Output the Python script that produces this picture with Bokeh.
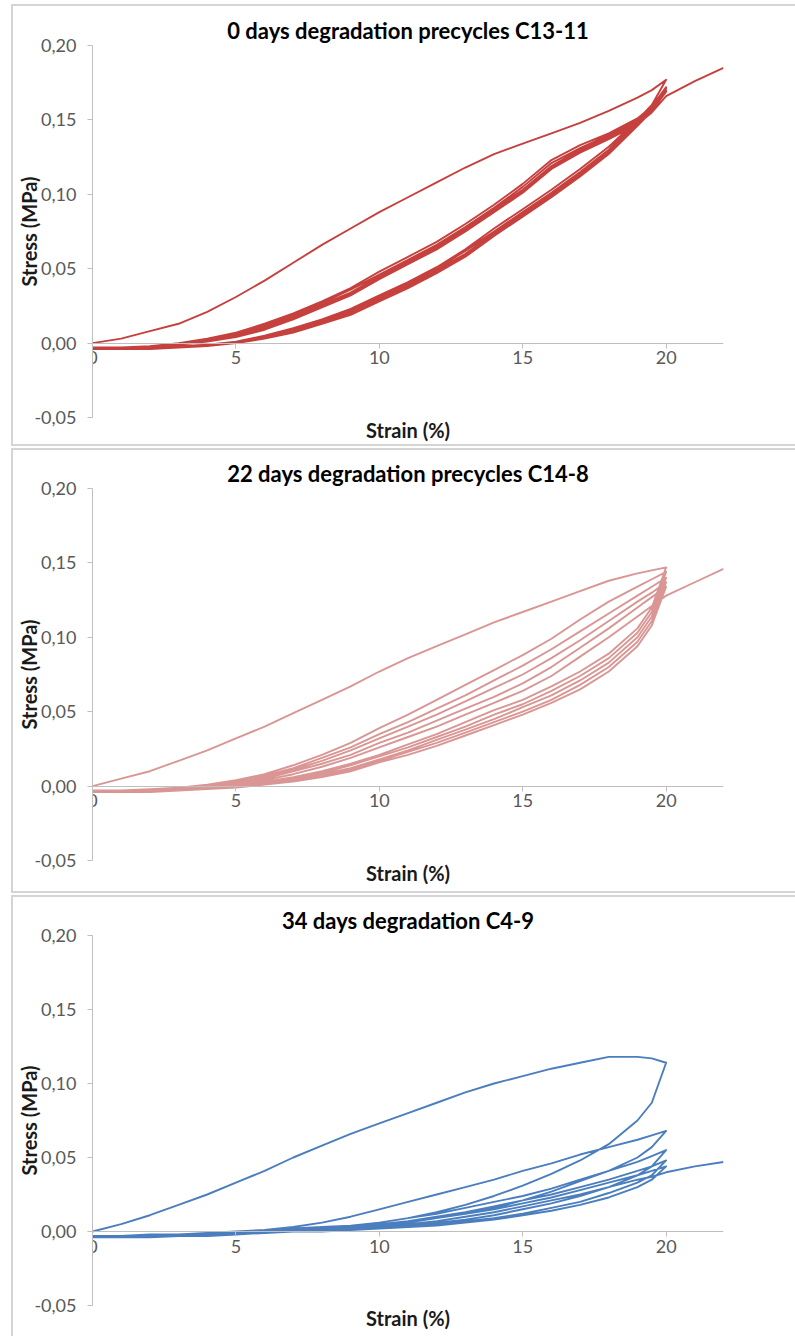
from bokeh.plotting import figure
from bokeh.layouts import column
from bokeh.models import Range1d, FixedTicker, LinearAxis, Title
from bokeh.embed import file_html
from bokeh.resources import INLINE

# ---------------- shared axes data ----------------
strain_grid = [0, 1, 2, 3, 4, 5, 6, 7, 8, 9, 10, 11, 12, 13, 14, 15, 16, 17, 18, 19, 19.5, 20]
strain_tail = [21, 22]
x_ticks = [0, 5, 10, 15, 20]
x_tick_labels = ["0", "5", "10", "15", "20"]
y_ticks = [-0.05, 0.0, 0.05, 0.10, 0.15, 0.20]
y_tick_labels = ["-0,05", "0,00", "0,05", "0,10", "0,15", "0,20"]

titles = ["0 days degradation precycles C13-11",
          "22 days degradation precycles C14-8",
          "34 days degradation C4-9"]

# ---------------- panel 1 : 0 days (stress in MPa on strain_grid) ----------------
p1_load_1 = [0.000, 0.003, 0.008, 0.013, 0.021, 0.031, 0.042, 0.054, 0.066, 0.077, 0.088, 0.098, 0.108, 0.118, 0.127, 0.134, 0.141, 0.148, 0.156, 0.165, 0.170, 0.177]
p1_unload_1 = [-0.003, -0.003, -0.003, -0.002, -0.001, 0.001, 0.005, 0.010, 0.016, 0.023, 0.032, 0.041, 0.051, 0.063, 0.077, 0.090, 0.103, 0.117, 0.132, 0.150, 0.160, 0.177]
p1_load_2 = [-0.003, -0.003, -0.002, 0.000, 0.003, 0.007, 0.013, 0.020, 0.028, 0.037, 0.048, 0.058, 0.068, 0.080, 0.093, 0.107, 0.123, 0.133, 0.141, 0.151, 0.159, 0.172]
p1_unload_2 = [-0.003, -0.003, -0.003, -0.002, -0.001, 0.001, 0.004, 0.009, 0.015, 0.022, 0.031, 0.040, 0.050, 0.062, 0.075, 0.088, 0.101, 0.115, 0.130, 0.149, 0.159, 0.172]
p1_load_3 = [-0.003, -0.003, -0.002, 0.000, 0.002, 0.006, 0.012, 0.019, 0.027, 0.036, 0.046, 0.056, 0.066, 0.078, 0.091, 0.105, 0.121, 0.131, 0.140, 0.150, 0.158, 0.171]
p1_unload_3 = [-0.004, -0.003, -0.003, -0.002, -0.001, 0.000, 0.004, 0.008, 0.014, 0.021, 0.030, 0.039, 0.049, 0.060, 0.074, 0.087, 0.100, 0.114, 0.129, 0.148, 0.158, 0.171]
p1_load_4 = [-0.004, -0.003, -0.003, -0.001, 0.002, 0.005, 0.011, 0.018, 0.026, 0.034, 0.045, 0.055, 0.065, 0.077, 0.090, 0.103, 0.119, 0.130, 0.139, 0.149, 0.157, 0.170]
p1_unload_4 = [-0.004, -0.004, -0.003, -0.003, -0.002, 0.000, 0.003, 0.008, 0.013, 0.020, 0.029, 0.038, 0.048, 0.059, 0.073, 0.086, 0.099, 0.113, 0.128, 0.147, 0.157, 0.170]
p1_load_5 = [-0.004, -0.004, -0.003, -0.001, 0.001, 0.005, 0.010, 0.017, 0.025, 0.033, 0.044, 0.054, 0.064, 0.076, 0.089, 0.102, 0.118, 0.129, 0.138, 0.148, 0.156, 0.169]
p1_unload_5 = [-0.004, -0.004, -0.004, -0.003, -0.002, 0.000, 0.003, 0.007, 0.013, 0.019, 0.028, 0.037, 0.047, 0.058, 0.072, 0.085, 0.098, 0.112, 0.127, 0.146, 0.156, 0.169]
p1_load_final = [-0.004, -0.004, -0.003, -0.001, 0.001, 0.004, 0.009, 0.016, 0.024, 0.032, 0.043, 0.053, 0.063, 0.075, 0.088, 0.101, 0.117, 0.128, 0.137, 0.147, 0.155, 0.166]
p1_tail = [0.176, 0.185]

# ---------------- panel 2 : 22 days ----------------
p2_load_1 = [0.000, 0.005, 0.010, 0.017, 0.024, 0.032, 0.040, 0.049, 0.058, 0.067, 0.077, 0.086, 0.094, 0.102, 0.110, 0.117, 0.124, 0.131, 0.138, 0.143, 0.145, 0.147]
p2_unload_1 = [-0.003, -0.003, -0.003, -0.002, -0.001, 0.001, 0.003, 0.006, 0.010, 0.015, 0.021, 0.028, 0.035, 0.043, 0.051, 0.058, 0.067, 0.077, 0.089, 0.106, 0.120, 0.147]
p2_load_2 = [-0.003, -0.003, -0.002, -0.001, 0.001, 0.004, 0.008, 0.014, 0.021, 0.029, 0.039, 0.048, 0.058, 0.068, 0.078, 0.088, 0.099, 0.112, 0.124, 0.134, 0.139, 0.144]
p2_unload_2 = [-0.004, -0.003, -0.003, -0.002, -0.001, 0.000, 0.002, 0.005, 0.009, 0.014, 0.020, 0.026, 0.033, 0.040, 0.048, 0.055, 0.064, 0.074, 0.086, 0.103, 0.117, 0.144]
p2_load_3 = [-0.003, -0.003, -0.003, -0.001, 0.001, 0.003, 0.007, 0.012, 0.019, 0.026, 0.035, 0.043, 0.052, 0.061, 0.071, 0.081, 0.092, 0.104, 0.116, 0.128, 0.134, 0.140]
p2_unload_3 = [-0.004, -0.004, -0.003, -0.003, -0.002, 0.000, 0.002, 0.004, 0.008, 0.012, 0.018, 0.024, 0.031, 0.038, 0.045, 0.053, 0.061, 0.071, 0.083, 0.100, 0.114, 0.140]
p2_load_4 = [-0.004, -0.003, -0.003, -0.002, 0.000, 0.003, 0.006, 0.011, 0.017, 0.024, 0.032, 0.040, 0.048, 0.057, 0.066, 0.075, 0.086, 0.098, 0.111, 0.124, 0.130, 0.137]
p2_unload_4 = [-0.004, -0.004, -0.004, -0.003, -0.002, -0.001, 0.001, 0.004, 0.007, 0.011, 0.017, 0.023, 0.029, 0.036, 0.043, 0.050, 0.058, 0.068, 0.080, 0.097, 0.111, 0.137]
p2_load_5 = [-0.004, -0.004, -0.003, -0.002, 0.000, 0.002, 0.005, 0.010, 0.015, 0.021, 0.029, 0.036, 0.044, 0.052, 0.060, 0.069, 0.080, 0.093, 0.106, 0.120, 0.127, 0.134]
p2_unload_5 = [-0.004, -0.004, -0.004, -0.003, -0.002, -0.001, 0.001, 0.003, 0.006, 0.010, 0.016, 0.021, 0.027, 0.034, 0.041, 0.048, 0.056, 0.065, 0.077, 0.094, 0.108, 0.134]
p2_load_final = [-0.004, -0.004, -0.004, -0.002, -0.001, 0.001, 0.004, 0.008, 0.013, 0.019, 0.026, 0.033, 0.040, 0.048, 0.056, 0.064, 0.074, 0.087, 0.100, 0.114, 0.121, 0.128]
p2_tail = [0.137, 0.146]

# ---------------- panel 3 : 34 days ----------------
p3_load_1 = [0.000, 0.005, 0.011, 0.018, 0.025, 0.033, 0.041, 0.050, 0.058, 0.066, 0.073, 0.080, 0.087, 0.094, 0.100, 0.105, 0.110, 0.114, 0.118, 0.118, 0.117, 0.114]
p3_unload_1 = [-0.003, -0.003, -0.002, -0.002, -0.001, 0.000, 0.001, 0.002, 0.003, 0.004, 0.006, 0.009, 0.013, 0.018, 0.024, 0.031, 0.039, 0.048, 0.059, 0.075, 0.087, 0.114]
p3_load_2 = [-0.003, -0.003, -0.002, -0.002, -0.001, 0.000, 0.001, 0.003, 0.006, 0.010, 0.015, 0.020, 0.025, 0.030, 0.035, 0.041, 0.046, 0.052, 0.057, 0.062, 0.065, 0.068]
p3_unload_2 = [-0.003, -0.003, -0.003, -0.002, -0.002, -0.001, 0.000, 0.001, 0.002, 0.003, 0.004, 0.006, 0.009, 0.012, 0.016, 0.021, 0.027, 0.034, 0.041, 0.050, 0.057, 0.068]
p3_load_3 = [-0.003, -0.003, -0.003, -0.002, -0.002, -0.001, 0.000, 0.001, 0.003, 0.004, 0.006, 0.009, 0.012, 0.016, 0.020, 0.024, 0.029, 0.035, 0.041, 0.047, 0.051, 0.055]
p3_unload_3 = [-0.004, -0.003, -0.003, -0.003, -0.002, -0.001, 0.000, 0.000, 0.001, 0.002, 0.003, 0.004, 0.006, 0.008, 0.011, 0.015, 0.019, 0.024, 0.030, 0.038, 0.044, 0.055]
p3_load_4 = [-0.004, -0.003, -0.003, -0.003, -0.002, -0.001, 0.000, 0.001, 0.002, 0.003, 0.005, 0.007, 0.010, 0.013, 0.017, 0.021, 0.025, 0.030, 0.035, 0.041, 0.044, 0.048]
p3_unload_4 = [-0.004, -0.004, -0.003, -0.003, -0.002, -0.002, -0.001, 0.000, 0.001, 0.001, 0.002, 0.003, 0.005, 0.007, 0.009, 0.012, 0.016, 0.020, 0.026, 0.033, 0.038, 0.048]
p3_load_5 = [-0.004, -0.004, -0.003, -0.003, -0.002, -0.001, 0.000, 0.001, 0.002, 0.003, 0.004, 0.006, 0.009, 0.012, 0.015, 0.019, 0.023, 0.028, 0.033, 0.038, 0.041, 0.044]
p3_unload_5 = [-0.004, -0.004, -0.004, -0.003, -0.003, -0.002, -0.001, 0.000, 0.000, 0.001, 0.002, 0.003, 0.004, 0.006, 0.008, 0.011, 0.014, 0.018, 0.023, 0.030, 0.035, 0.044]
p3_load_final = [-0.004, -0.004, -0.004, -0.003, -0.002, -0.002, -0.001, 0.000, 0.001, 0.002, 0.003, 0.005, 0.007, 0.010, 0.013, 0.017, 0.021, 0.025, 0.030, 0.035, 0.037, 0.040]
p3_tail = [0.044, 0.047]

colors = ["#C6403E", "#D99694", "#4A7EBE"]

FONT = "Lato"
AXIS_GRAY = "#BFBFBF"
LABEL_SIZE = "20px"
TICK_SIZE = "18px"


def build_path(loads, unloads, final, tail):
    xs, ys = [], []
    for ld, ul in zip(loads, unloads):
        xs += strain_grid + strain_grid[::-1]
        ys += ld + ul[::-1]
    xs += strain_grid + strain_tail
    ys += final + tail
    return xs, ys


def make_panel(title, loads, unloads, final, tail, color, height, top, bottom, css):
    p = figure(width=784, height=height,
               x_range=Range1d(0, 22), y_range=Range1d(-0.05, 0.20),
               x_axis_type=None, y_axis_type=None,
               output_backend="svg", toolbar_location=None,
               min_border_left=79, min_border_right=74,
               min_border_top=top, min_border_bottom=bottom,
               background_fill_color="white", border_fill_color="white",
               outline_line_color=None, styles=css)
    p.grid.visible = False

    t = Title(text=title, align="center", text_font=FONT, text_font_size="22px",
              text_font_style="bold", text_color="#000000", standoff=3)
    p.add_layout(t, "above")

    # x axis drawn along stress = 0
    xaxis = LinearAxis(fixed_location=0, ticker=FixedTicker(ticks=x_ticks),
                       major_label_overrides=dict(zip(x_ticks, x_tick_labels)),
                       major_label_text_font=FONT, major_label_text_font_size=TICK_SIZE,
                       major_label_text_color="#595959", major_label_standoff=3,
                       axis_line_color=AXIS_GRAY, major_tick_line_color=AXIS_GRAY,
                       major_tick_in=0, major_tick_out=5,
                       minor_tick_line_color=None)
    p.add_layout(xaxis, "below")

    # x axis title at the bottom of the plot area
    xlabel = LinearAxis(ticker=FixedTicker(ticks=[]), axis_label="Strain (%)",
                        axis_label_standoff=0,
                        axis_label_text_font=FONT, axis_label_text_font_size=LABEL_SIZE,
                        axis_label_text_font_style="bold", axis_label_text_color="#1a1a1a",
                        axis_line_color=None, major_tick_line_color=None,
                        major_tick_in=0, major_tick_out=0, minor_tick_line_color=None,
                        major_label_text_font_size="0px")
    p.add_layout(xlabel, "below")

    yaxis = LinearAxis(ticker=FixedTicker(ticks=y_ticks),
                       major_label_overrides=dict(zip(y_ticks, y_tick_labels)),
                       axis_label="Stress (MPa)", axis_label_standoff=-10,
                       axis_label_text_font=FONT, axis_label_text_font_size=LABEL_SIZE,
                       axis_label_text_font_style="bold", axis_label_text_color="#1a1a1a",
                       major_label_text_font=FONT, major_label_text_font_size=TICK_SIZE,
                       major_label_text_color="#595959", major_label_standoff=11,
                       axis_line_color=AXIS_GRAY, major_tick_line_color=AXIS_GRAY,
                       major_tick_in=0, major_tick_out=5,
                       minor_tick_line_color=None)
    p.add_layout(yaxis, "left")

    xs, ys = build_path(loads, unloads, final, tail)
    p.line(xs, ys, line_color=color, line_width=1.9, line_join="round")
    return p


BORDER = "2px solid #D4D4D4"
p1 = make_panel(titles[0],
                [p1_load_1, p1_load_2, p1_load_3, p1_load_4, p1_load_5],
                [p1_unload_1, p1_unload_2, p1_unload_3, p1_unload_4, p1_unload_5],
                p1_load_final, p1_tail, colors[0], 442, 39, 31,
                {"border-left": BORDER, "border-top": BORDER, "border-bottom": BORDER})
p2 = make_panel(titles[1],
                [p2_load_1, p2_load_2, p2_load_3, p2_load_4, p2_load_5],
                [p2_unload_1, p2_unload_2, p2_unload_3, p2_unload_4, p2_unload_5],
                p2_load_final, p2_tail, colors[1], 445, 38, 35,
                {"border-left": BORDER, "border-top": BORDER, "border-bottom": BORDER})
p3 = make_panel(titles[2],
                [p3_load_1, p3_load_2, p3_load_3, p3_load_4, p3_load_5],
                [p3_unload_1, p3_unload_2, p3_unload_3, p3_unload_4, p3_unload_5],
                p3_load_final, p3_tail, colors[2], 441, 38, 33,
                {"border-left": BORDER, "border-top": BORDER})

layout = column(p1, p2, p3, spacing=2,
                styles={"margin-left": "11px", "margin-top": "4px"})

open("out.html", "w").write(file_html(layout, INLINE))
